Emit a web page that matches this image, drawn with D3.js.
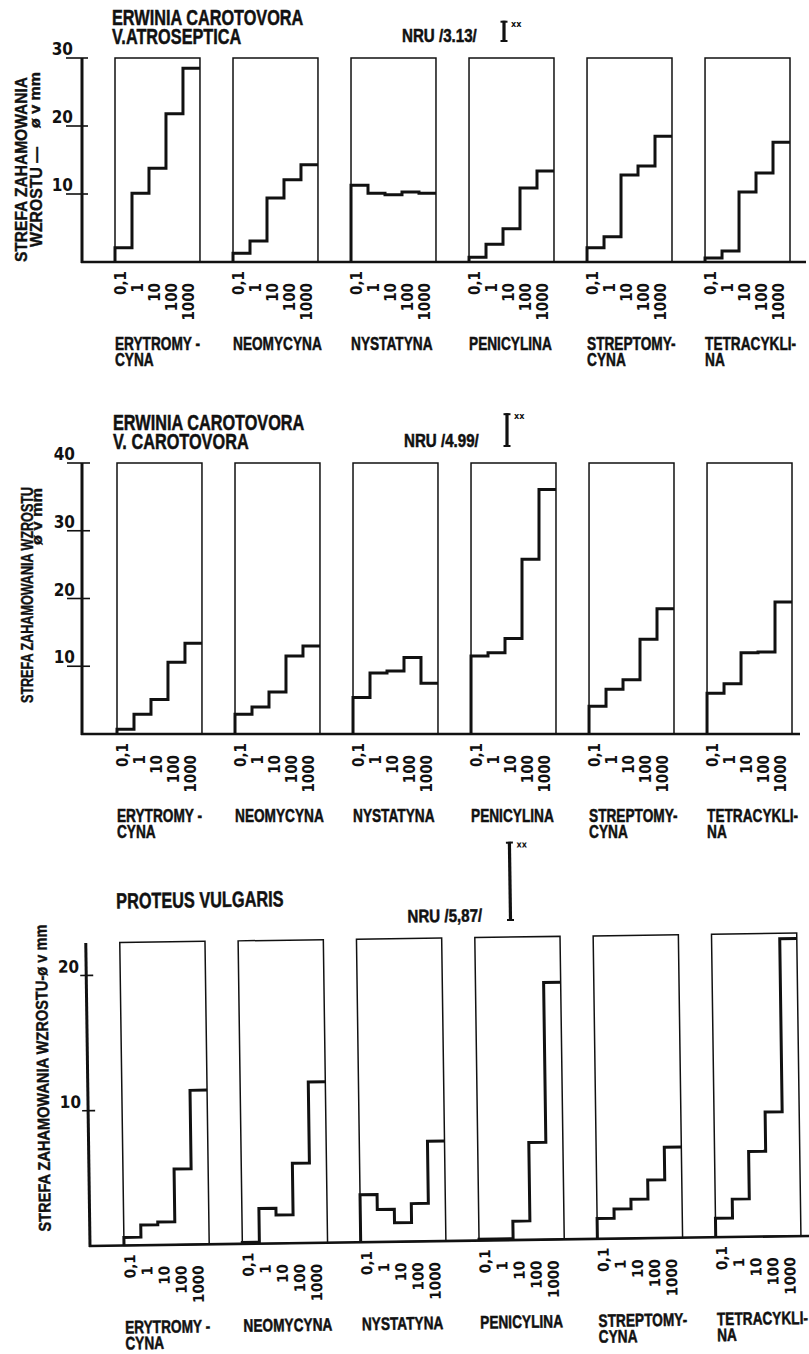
<!DOCTYPE html>
<html>
<head>
<meta charset="utf-8">
<script src="https://cdn.jsdelivr.net/npm/d3@7"></script>
<style>
  body { margin: 0; background: #fff; }
  svg { display: block; }
</style>
</head>
<body>
<div id="chart"></div>
<script>
// stezenia antybiotyku (os x w kazdym prostokacie)
const concentrations = ["0,1", "1", "10", "100", "1000"];
const antibiotics = ["ERYTROMYCYNA", "NEOMYCYNA", "NYSTATYNA", "PENICYLINA", "STREPTOMYCYNA", "TETRACYKLINA"];
const antibioticLabels = [["ERYTROMY -", "CYNA"], ["NEOMYCYNA"], ["NYSTATYNA"], ["PENICYLINA"], ["STREPTOMY-", "CYNA"], ["TETRACYKLI-", "NA"]];

// strefa zahamowania wzrostu (mm), wiersz = antybiotyk, kolumna = stezenie
const atrosepticaZones = [
    [2.1, 10.1, 13.8, 21.8, 28.5],
    [1.3, 3.1, 9.4, 12.1, 14.3],
    [11.3, 10.1, 9.9, 10.3, 10.1],
    [0.7, 2.6, 4.9, 10.9, 13.4],
    [2.1, 3.7, 12.8, 14.1, 18.5],
    [0.6, 1.6, 10.3, 13.1, 17.6]
];
const carotovoraZones = [
    [0.7, 2.9, 5.1, 10.6, 13.4],
    [2.9, 4.0, 6.2, 11.5, 13.0],
    [5.4, 9.0, 9.3, 11.3, 7.5],
    [11.5, 12.0, 14.1, 25.8, 36.1],
    [4.1, 6.6, 8.0, 14.0, 18.5],
    [6.0, 7.4, 12.0, 12.1, 19.5]
];
const proteusZones = [
    [0.6, 1.5, 1.7, 5.6, 11.4],
    [0.1, 2.6, 2.1, 5.9, 11.9],
    [3.5, 2.4, 1.4, 2.8, 7.4],
    [0.1, 0.1, 1.4, 7.2, 19.0],
    [1.5, 2.2, 2.9, 4.3, 6.7],
    [1.4, 2.8, 6.3, 9.2, 22.0]
];

const titles = [["ERWINIA CAROTOVORA", "V.ATROSEPTICA"], ["ERWINIA CAROTOVORA", "V. CAROTOVORA"], ["PROTEUS VULGARIS"]];
const nruValues = [3.13, 4.99, 5.87];
const nruLabels = ["NRU /3.13/", "NRU /4.99/", "NRU /5,87/"];
const yTicks = [[10, 20, 30], [10, 20, 30, 40], [10, 20]];
const yMax = [30, 40, 22.4];
const zones = [atrosepticaZones, carotovoraZones, proteusZones];

const ink = "#111";
const stencil = "'Liberation Sans', Arial, sans-serif";
const digits = "'DejaVu Sans Condensed', 'DejaVu Sans', sans-serif";

// uklad trzech paneli
const layout = [
    {axisX: 82, baseY: 262, topY: 58, x0: 115, x1: 790, lineEnd: 806, tickL: 16, tickR: 6, numRight: 73,
     titleX: 112, titleY: 25, nruX: 402, nruY: 42, barX: 504,
     yTitle: [
         {text: "STREFA ZAHAMOWANIA", x: 27, y: 262, len: 185, size: 17},
         {text: "WZROSTU —", x: 42, y: 247, len: 100, size: 17},
         {text: "ø v mm", x: 40, y: 128, len: 56, size: 14}
     ]},
    {axisX: 82, baseY: 734, topY: 463, x0: 117, x1: 792, lineEnd: 800, tickL: 15, tickR: 8, numRight: 75,
     titleX: 113, titleY: 430, nruX: 404, nruY: 447, barX: 507,
     yTitle: [
         {text: "STREFA ZAHAMOWANIA WZROSTU", x: 33, y: 703, len: 216, size: 16},
         {text: "ø v mm", x: 42, y: 545, len: 57, size: 14}
     ]},
    {axisX: 88, baseY: 1241, topY: 938, x0: 122, x1: 799, lineEnd: 812, tickL: 6, tickR: 7, numRight: 81,
     titleX: 119, titleY: 904, nruX: 410, nruY: 922, barX: 513, tilt: -0.8, cx: 445, cy: 1100,
     yTitle: [
         {text: "STREFA ZAHAMOWANIA WZROSTU-ø v mm", x: 49, y: 1226, len: 307, size: 17}
     ]}
];

// reczne liternictwo jest waskie - tekst sciskany w poziomie przez scale
function stencilText(parent, x, y, lines, size, squeeze, gap) {
    let t = parent.append("g")
        .attr("transform", `translate(${x},${y}) scale(${squeeze},1)`)
        .append("text")
        .attr("font-family", stencil)
        .attr("font-weight", "bold")
        .attr("font-size", size)
        .attr("fill", ink)
        .attr("stroke", ink)
        .attr("stroke-width", 0.5);
    t.selectAll("tspan")
        .data(lines)
        .join("tspan")
        .attr("x", 0)
        .attr("dy", (d, j) => j === 0 ? 0 : gap)
        .text(d => d);
    return t;
}

let svg = d3.select("#chart")
    .append("svg")
    .attr("width", 809)
    .attr("height", 1354)
    .style("background", "white");

layout.forEach((p, k) => {
    let g = svg.append("g");
    if (p.tilt) g.attr("transform", `rotate(${p.tilt},${p.cx},${p.cy})`);

    let y = d3.scaleLinear().domain([0, yMax[k]]).range([p.baseY, p.topY]);
    let x = d3.scaleBand().domain(antibiotics).range([p.x0, p.x1]).paddingInner(0.28);
    let c = d3.scaleBand().domain(concentrations).range([0, x.bandwidth()]);

    // prostokaty
    g.selectAll(".box")
        .data(antibiotics)
        .join("rect")
        .attr("class", "box")
        .attr("x", d => x(d))
        .attr("y", y(yMax[k]))
        .attr("width", x.bandwidth())
        .attr("height", y(0) - y(yMax[k]))
        .attr("fill", "none")
        .attr("stroke", ink)
        .attr("stroke-width", 1.5);

    // schodki
    let stepLine = d3.line()
        .x(d => d[0])
        .y(d => y(d[1]))
        .curve(d3.curveStepAfter);

    g.selectAll(".steps")
        .data(zones[k])
        .join("path")
        .attr("class", "steps")
        .attr("fill", "none")
        .attr("stroke", ink)
        .attr("stroke-width", 3)
        .attr("d", (vals, i) => {
            let left = x(antibiotics[i]);
            let pts = [[left, 0]];
            vals.forEach((v, j) => pts.push([left + c(concentrations[j]), v]));
            pts.push([left + x.bandwidth(), vals[vals.length - 1]]);
            return stepLine(pts);
        });

    // os y i linia podstawy
    g.append("line")
        .attr("x1", p.axisX).attr("x2", p.axisX)
        .attr("y1", y(0) + 1).attr("y2", y(yMax[k]))
        .attr("stroke", ink).attr("stroke-width", 3);
    g.append("line")
        .attr("x1", p.axisX - 1).attr("x2", p.lineEnd)
        .attr("y1", y(0)).attr("y2", y(0))
        .attr("stroke", ink).attr("stroke-width", 2.6);

    g.selectAll(".ytick")
        .data(yTicks[k])
        .join("line")
        .attr("class", "ytick")
        .attr("x1", p.axisX - p.tickL).attr("x2", p.axisX + p.tickR)
        .attr("y1", d => y(d)).attr("y2", d => y(d))
        .attr("stroke", ink).attr("stroke-width", 1.6);

    g.selectAll(".ylab")
        .data(yTicks[k])
        .join("text")
        .attr("class", "ylab")
        .attr("x", p.numRight)
        .attr("y", d => y(d) - 3)
        .attr("text-anchor", "end")
        .attr("font-family", digits)
        .attr("font-weight", "bold")
        .attr("font-size", 17)
        .attr("fill", ink)
        .text(d => d);

    // etykiety stezen (pionowe)
    antibiotics.forEach(a => {
        g.selectAll(null)
            .data(concentrations)
            .join("text")
            .attr("transform", (d, j) => {
                let cx = x(a) + c(d) + c.bandwidth() / 2 + 2.5;
                let cy = p.baseY + (j === 0 ? 9 : 21);
                return `translate(${cx},${cy}) rotate(-90)`;
            })
            .attr("text-anchor", "end")
            .attr("font-family", digits)
            .attr("font-weight", "bold")
            .attr("font-size", 15)
            .attr("fill", ink)
            .text(d => d);
    });

    // nazwy antybiotykow
    antibioticLabels.forEach((lines, i) => {
        stencilText(g, x(antibiotics[i]), p.baseY + 88, lines, 18, 0.76, 16);
    });

    // tytul
    stencilText(g, p.titleX, p.titleY, titles[k], 22, 0.74, 19);

    // NRU
    stencilText(g, p.nruX, p.nruY, [nruLabels[k]], 18, 0.84, 0);

    let barTop = p.nruY - (y(0) - y(nruValues[k]));
    let bar = g.append("g").attr("stroke", ink).attr("stroke-width", 3.2);
    bar.append("line").attr("x1", p.barX).attr("x2", p.barX).attr("y1", barTop).attr("y2", p.nruY);
    bar.append("line").attr("x1", p.barX - 3.5).attr("x2", p.barX + 3.5).attr("y1", barTop + 1).attr("y2", barTop + 1).attr("stroke-width", 2);
    bar.append("line").attr("x1", p.barX - 3.5).attr("x2", p.barX + 3.5).attr("y1", p.nruY - 1).attr("y2", p.nruY - 1).attr("stroke-width", 2);
    g.append("text")
        .attr("x", p.barX + 7)
        .attr("y", barTop + 6)
        .attr("font-family", digits)
        .attr("font-weight", "bold")
        .attr("font-size", 9)
        .attr("fill", ink)
        .text("xx");

    // opis osi y
    p.yTitle.forEach(t => {
        g.append("text")
            .attr("transform", `translate(${t.x},${t.y}) rotate(-90)`)
            .attr("font-family", stencil)
            .attr("font-weight", "bold")
            .attr("font-size", t.size)
            .attr("textLength", t.len)
            .attr("lengthAdjust", "spacingAndGlyphs")
            .attr("fill", ink)
            .attr("stroke", ink)
            .attr("stroke-width", 0.4)
            .text(t.text);
    });
});
</script>
</body>
</html>
